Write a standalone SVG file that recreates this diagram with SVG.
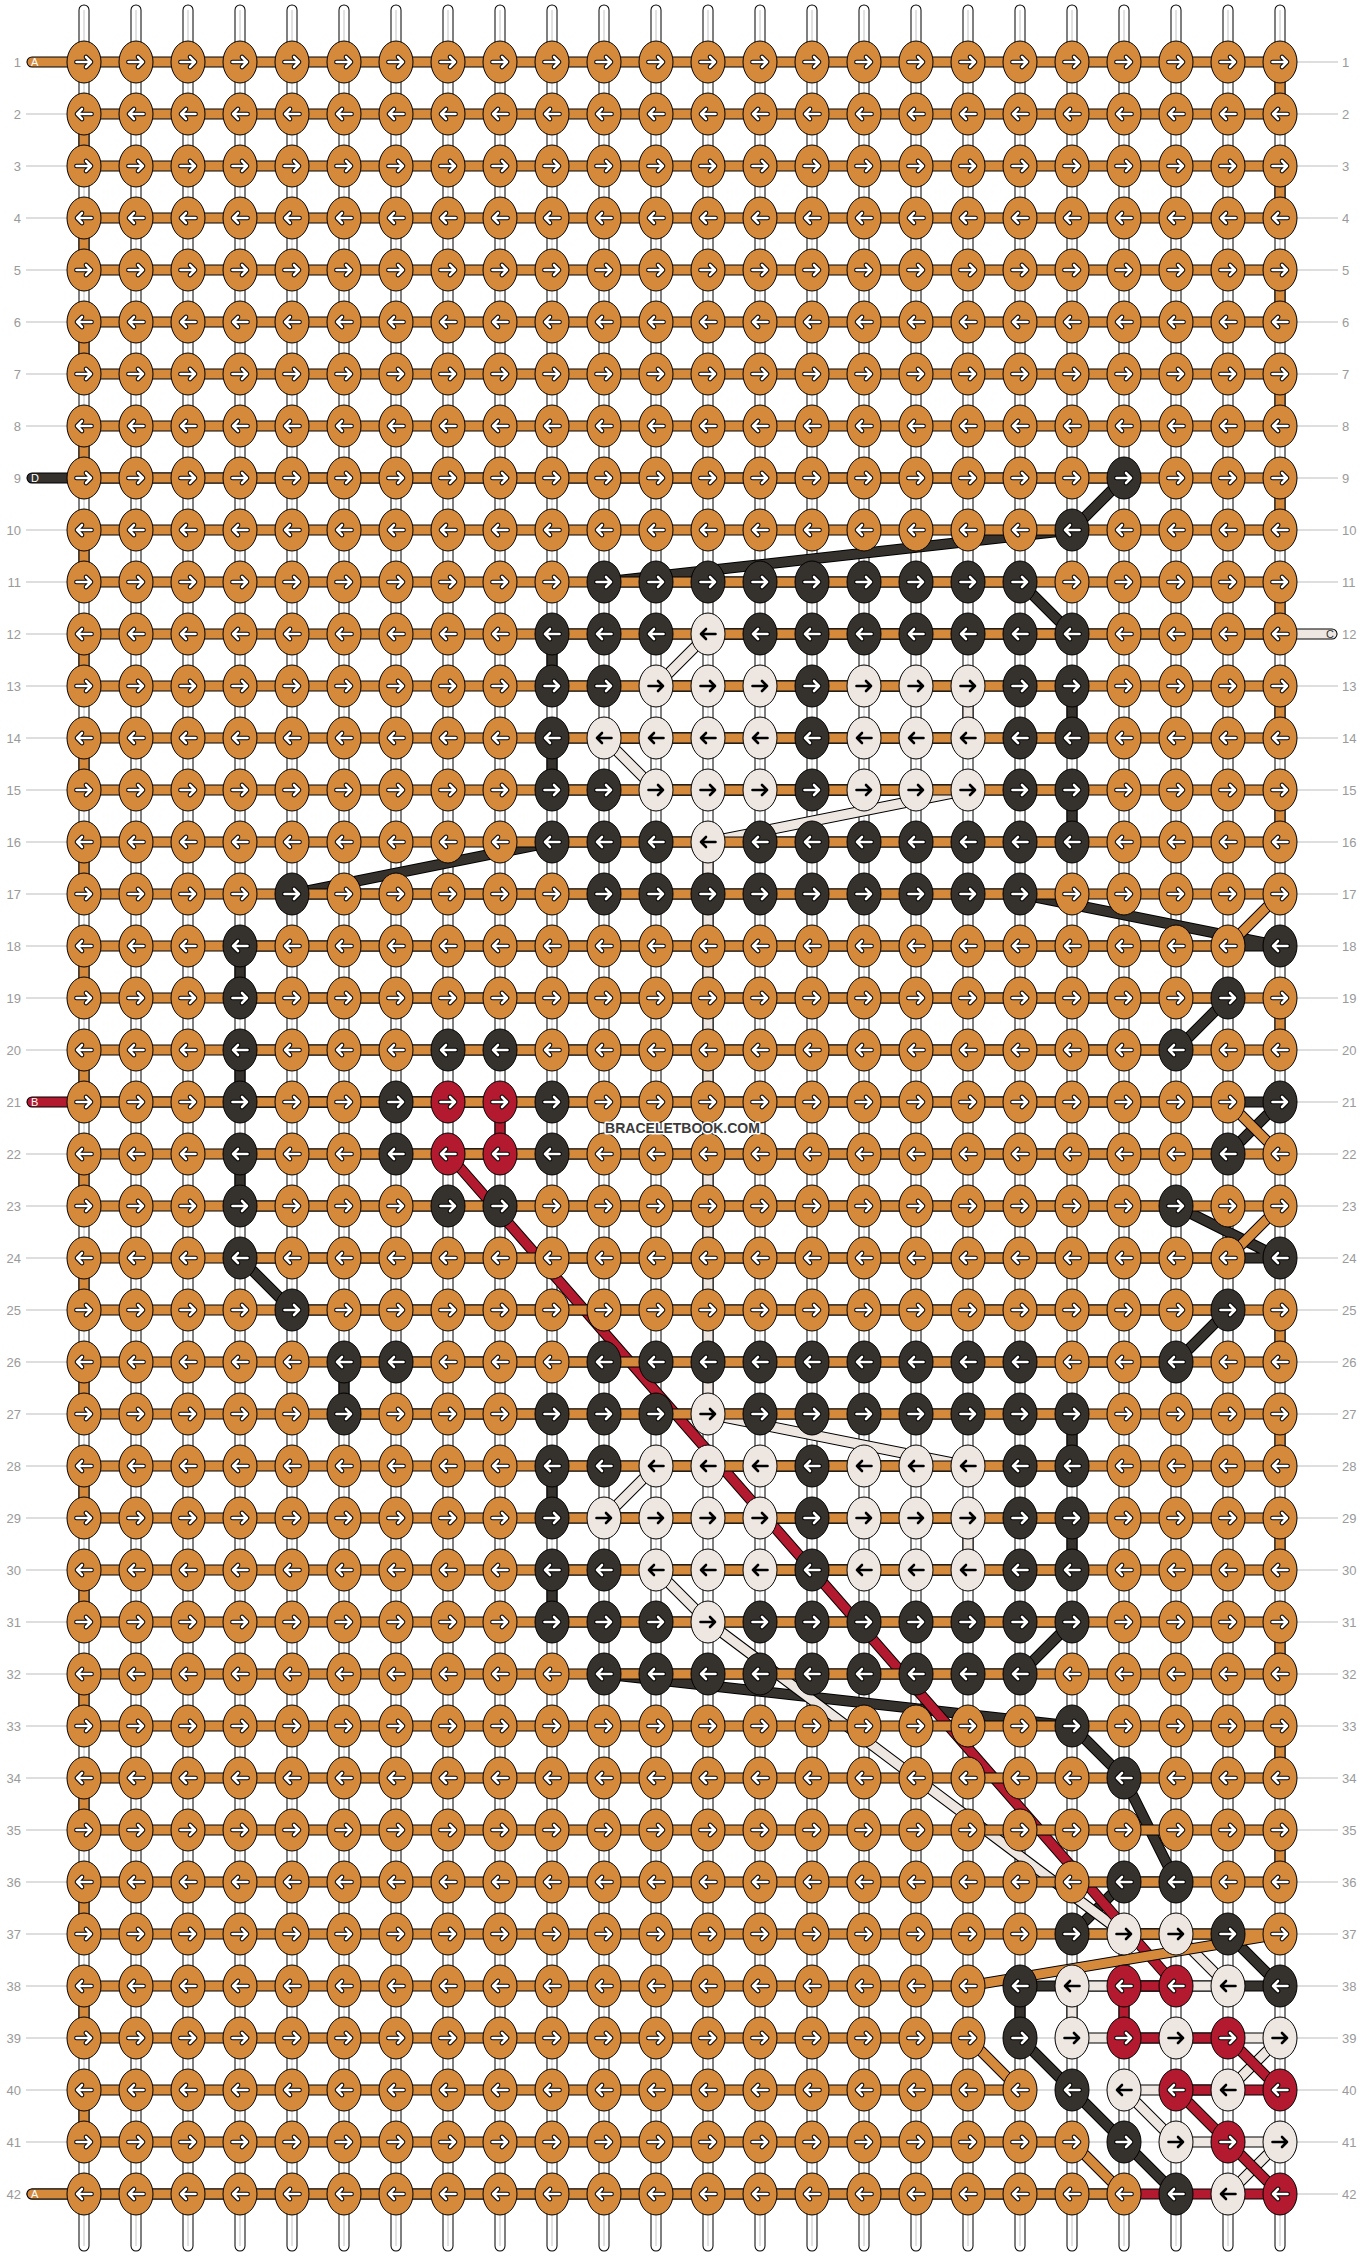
<svg xmlns="http://www.w3.org/2000/svg" xmlns:xlink="http://www.w3.org/1999/xlink" width="1364" height="2256" viewBox="0 0 1364 2256">
<style>
.bg{fill:#fff}
.s{fill:none;stroke-linecap:round;stroke-linejoin:round}
.vso{stroke:#000;stroke-width:11}
.vsw{stroke:#fff;stroke-width:9}
.vsg{fill:none;stroke:#c4c4c4;stroke-width:1}
.rl{fill:none;stroke:#bdbdbd;stroke-width:1}
.ol{stroke:#000;stroke-width:11}
.tA{stroke:#D5893A;stroke-width:9}
.tB{stroke:#B3192F;stroke-width:9}
.tC{stroke:#EEE7E1;stroke-width:9}
.tD{stroke:#35312C;stroke-width:9}
.k{stroke:#000;stroke-width:1}
.a{fill:#D5893A}.b{fill:#B3192F}.c{fill:#EEE7E1}.d{fill:#35312C}
.o{fill:none;stroke:#000;stroke-width:4.6;stroke-linecap:round;stroke-linejoin:round}
.w{fill:none;stroke:#fff;stroke-width:2.6;stroke-linecap:round;stroke-linejoin:round}
.x{fill:none;stroke:#000;stroke-width:2.6;stroke-linecap:round;stroke-linejoin:round}
.rn{font-family:"Liberation Sans",Arial,sans-serif;font-size:13px;fill:#9a9a9a}
.lab{font-family:"Liberation Sans",Arial,sans-serif;font-size:11px}
.wm{font-family:"Liberation Sans",Arial,sans-serif;font-size:14px;font-weight:bold;fill:#3a3a3a;stroke:#fff;stroke-width:3;paint-order:stroke;stroke-linejoin:round}
</style>
<defs>
<path id="ra" d="M-7.5 0H7M2 -5L7 0L2 5"/>
<path id="la" d="M7.5 0H-7M-2 -5L-7 0L-2 5"/>
<g id="Ar"><ellipse class="k a" rx="17" ry="21"/><use href="#ra" class="o"/><use href="#ra" class="w"/></g>
<g id="Al"><ellipse class="k a" rx="17" ry="21"/><use href="#la" class="o"/><use href="#la" class="w"/></g>
<g id="Br"><ellipse class="k b" rx="17" ry="21"/><use href="#ra" class="o"/><use href="#ra" class="w"/></g>
<g id="Bl"><ellipse class="k b" rx="17" ry="21"/><use href="#la" class="o"/><use href="#la" class="w"/></g>
<g id="Cr"><ellipse class="k c" rx="17" ry="21"/><use href="#ra" class="x"/></g>
<g id="Cl"><ellipse class="k c" rx="17" ry="21"/><use href="#la" class="x"/></g>
<g id="Dr"><ellipse class="k d" rx="17" ry="21"/><use href="#ra" class="o"/><use href="#ra" class="w"/></g>
<g id="Dl"><ellipse class="k d" rx="17" ry="21"/><use href="#la" class="o"/><use href="#la" class="w"/></g>
<path id="vs" d="M84 10V2246M136 10V2246M188 10V2246M240 10V2246M292 10V2246M344 10V2246M396 10V2246M448 10V2246M500 10V2246M552 10V2246M604 10V2246M656 10V2246M708 10V2246M760 10V2246M812 10V2246M864 10V2246M916 10V2246M968 10V2246M1020 10V2246M1072 10V2246M1124 10V2246M1176 10V2246M1228 10V2246M1280 10V2246"/>
<path id="pA" d="M32 62H1280V114H84V166H1280V218H84V270H1280V322H84V374H1280V426H84V478H1280V530H84V582H1280V634H84V686H1280V738H84V790H1280V842H84V894H1280L1228 946H84V998H1280V1050H84V1102H1228L1280 1154H84V1206H1280L1228 1258H84V1310H1280V1362H84V1414H1280V1466H84V1518H1280V1570H84V1622H1280V1674H84V1726H1280V1778H84V1830H1280V1882H84V1934H1280L968 1986H84V2038H968L1020 2090H84V2142H1072L1124 2194H32"/>
<path id="pB" d="M32 1102H500V1154H448L1176 1986H1124V2038H1228L1280 2090H1176L1228 2142L1280 2194H32"/>
<path id="pC" d="M1332 634H708L656 686H968V738H604L656 790H968L708 842V1414L968 1466H656L604 1518H968V1570H656L708 1622L1124 1934H1176L1228 1986H1072V2038H1280L1228 2090H1124L1176 2142H1280L1228 2194"/>
<path id="pD" d="M32 478H1124L1072 530L604 582H1020L1072 634H552V686H1072V738H552V790H1072V842H552L292 894H1020L1280 946H240V998H1228L1176 1050H240V1102H1280L1228 1154H240V1206H1176L1280 1258H240L292 1310H1228L1176 1362H344V1414H1072V1466H552V1518H1072V1570H552V1622H1072L1020 1674H604L1072 1726L1124 1778L1176 1882H1124L1072 1934H1228L1280 1986H1020V2038L1072 2090L1124 2142L1176 2194"/>
</defs>
<rect class="bg" width="1364" height="2256"/>
<g id="strings">
<use href="#vs" class="s vso"/>
<use href="#vs" class="s vsw"/>
<use href="#vs" class="vsg"/>
</g>
<path id="rowlines" class="rl" d="M26 62H1338M26 114H1338M26 166H1338M26 218H1338M26 270H1338M26 322H1338M26 374H1338M26 426H1338M26 478H1338M26 530H1338M26 582H1338M26 634H1338M26 686H1338M26 738H1338M26 790H1338M26 842H1338M26 894H1338M26 946H1338M26 998H1338M26 1050H1338M26 1102H1338M26 1154H1338M26 1206H1338M26 1258H1338M26 1310H1338M26 1362H1338M26 1414H1338M26 1466H1338M26 1518H1338M26 1570H1338M26 1622H1338M26 1674H1338M26 1726H1338M26 1778H1338M26 1830H1338M26 1882H1338M26 1934H1338M26 1986H1338M26 2038H1338M26 2090H1338M26 2142H1338M26 2194H1338"/>
<g id="connectors">
<use href="#pD" class="s ol"/><use href="#pD" class="s tD"/>
<use href="#pC" class="s ol"/><use href="#pC" class="s tC"/>
<use href="#pB" class="s ol"/><use href="#pB" class="s tB"/>
<use href="#pA" class="s ol"/><use href="#pA" class="s tA"/>
</g>
<g id="knots">
<g id="row1" transform="translate(0 62)"><g id="k1-1"><use href="#Ar" x="84"/></g><g id="k1-2"><use href="#Ar" x="136"/></g><g id="k1-3"><use href="#Ar" x="188"/></g><g id="k1-4"><use href="#Ar" x="240"/></g><g id="k1-5"><use href="#Ar" x="292"/></g><g id="k1-6"><use href="#Ar" x="344"/></g><g id="k1-7"><use href="#Ar" x="396"/></g><g id="k1-8"><use href="#Ar" x="448"/></g><g id="k1-9"><use href="#Ar" x="500"/></g><g id="k1-10"><use href="#Ar" x="552"/></g><g id="k1-11"><use href="#Ar" x="604"/></g><g id="k1-12"><use href="#Ar" x="656"/></g><g id="k1-13"><use href="#Ar" x="708"/></g><g id="k1-14"><use href="#Ar" x="760"/></g><g id="k1-15"><use href="#Ar" x="812"/></g><g id="k1-16"><use href="#Ar" x="864"/></g><g id="k1-17"><use href="#Ar" x="916"/></g><g id="k1-18"><use href="#Ar" x="968"/></g><g id="k1-19"><use href="#Ar" x="1020"/></g><g id="k1-20"><use href="#Ar" x="1072"/></g><g id="k1-21"><use href="#Ar" x="1124"/></g><g id="k1-22"><use href="#Ar" x="1176"/></g><g id="k1-23"><use href="#Ar" x="1228"/></g><g id="k1-24"><use href="#Ar" x="1280"/></g></g>
<g id="row2" transform="translate(0 114)"><g id="k2-1"><use href="#Al" x="84"/></g><g id="k2-2"><use href="#Al" x="136"/></g><g id="k2-3"><use href="#Al" x="188"/></g><g id="k2-4"><use href="#Al" x="240"/></g><g id="k2-5"><use href="#Al" x="292"/></g><g id="k2-6"><use href="#Al" x="344"/></g><g id="k2-7"><use href="#Al" x="396"/></g><g id="k2-8"><use href="#Al" x="448"/></g><g id="k2-9"><use href="#Al" x="500"/></g><g id="k2-10"><use href="#Al" x="552"/></g><g id="k2-11"><use href="#Al" x="604"/></g><g id="k2-12"><use href="#Al" x="656"/></g><g id="k2-13"><use href="#Al" x="708"/></g><g id="k2-14"><use href="#Al" x="760"/></g><g id="k2-15"><use href="#Al" x="812"/></g><g id="k2-16"><use href="#Al" x="864"/></g><g id="k2-17"><use href="#Al" x="916"/></g><g id="k2-18"><use href="#Al" x="968"/></g><g id="k2-19"><use href="#Al" x="1020"/></g><g id="k2-20"><use href="#Al" x="1072"/></g><g id="k2-21"><use href="#Al" x="1124"/></g><g id="k2-22"><use href="#Al" x="1176"/></g><g id="k2-23"><use href="#Al" x="1228"/></g><g id="k2-24"><use href="#Al" x="1280"/></g></g>
<g id="row3" transform="translate(0 166)"><g id="k3-1"><use href="#Ar" x="84"/></g><g id="k3-2"><use href="#Ar" x="136"/></g><g id="k3-3"><use href="#Ar" x="188"/></g><g id="k3-4"><use href="#Ar" x="240"/></g><g id="k3-5"><use href="#Ar" x="292"/></g><g id="k3-6"><use href="#Ar" x="344"/></g><g id="k3-7"><use href="#Ar" x="396"/></g><g id="k3-8"><use href="#Ar" x="448"/></g><g id="k3-9"><use href="#Ar" x="500"/></g><g id="k3-10"><use href="#Ar" x="552"/></g><g id="k3-11"><use href="#Ar" x="604"/></g><g id="k3-12"><use href="#Ar" x="656"/></g><g id="k3-13"><use href="#Ar" x="708"/></g><g id="k3-14"><use href="#Ar" x="760"/></g><g id="k3-15"><use href="#Ar" x="812"/></g><g id="k3-16"><use href="#Ar" x="864"/></g><g id="k3-17"><use href="#Ar" x="916"/></g><g id="k3-18"><use href="#Ar" x="968"/></g><g id="k3-19"><use href="#Ar" x="1020"/></g><g id="k3-20"><use href="#Ar" x="1072"/></g><g id="k3-21"><use href="#Ar" x="1124"/></g><g id="k3-22"><use href="#Ar" x="1176"/></g><g id="k3-23"><use href="#Ar" x="1228"/></g><g id="k3-24"><use href="#Ar" x="1280"/></g></g>
<g id="row4" transform="translate(0 218)"><g id="k4-1"><use href="#Al" x="84"/></g><g id="k4-2"><use href="#Al" x="136"/></g><g id="k4-3"><use href="#Al" x="188"/></g><g id="k4-4"><use href="#Al" x="240"/></g><g id="k4-5"><use href="#Al" x="292"/></g><g id="k4-6"><use href="#Al" x="344"/></g><g id="k4-7"><use href="#Al" x="396"/></g><g id="k4-8"><use href="#Al" x="448"/></g><g id="k4-9"><use href="#Al" x="500"/></g><g id="k4-10"><use href="#Al" x="552"/></g><g id="k4-11"><use href="#Al" x="604"/></g><g id="k4-12"><use href="#Al" x="656"/></g><g id="k4-13"><use href="#Al" x="708"/></g><g id="k4-14"><use href="#Al" x="760"/></g><g id="k4-15"><use href="#Al" x="812"/></g><g id="k4-16"><use href="#Al" x="864"/></g><g id="k4-17"><use href="#Al" x="916"/></g><g id="k4-18"><use href="#Al" x="968"/></g><g id="k4-19"><use href="#Al" x="1020"/></g><g id="k4-20"><use href="#Al" x="1072"/></g><g id="k4-21"><use href="#Al" x="1124"/></g><g id="k4-22"><use href="#Al" x="1176"/></g><g id="k4-23"><use href="#Al" x="1228"/></g><g id="k4-24"><use href="#Al" x="1280"/></g></g>
<g id="row5" transform="translate(0 270)"><g id="k5-1"><use href="#Ar" x="84"/></g><g id="k5-2"><use href="#Ar" x="136"/></g><g id="k5-3"><use href="#Ar" x="188"/></g><g id="k5-4"><use href="#Ar" x="240"/></g><g id="k5-5"><use href="#Ar" x="292"/></g><g id="k5-6"><use href="#Ar" x="344"/></g><g id="k5-7"><use href="#Ar" x="396"/></g><g id="k5-8"><use href="#Ar" x="448"/></g><g id="k5-9"><use href="#Ar" x="500"/></g><g id="k5-10"><use href="#Ar" x="552"/></g><g id="k5-11"><use href="#Ar" x="604"/></g><g id="k5-12"><use href="#Ar" x="656"/></g><g id="k5-13"><use href="#Ar" x="708"/></g><g id="k5-14"><use href="#Ar" x="760"/></g><g id="k5-15"><use href="#Ar" x="812"/></g><g id="k5-16"><use href="#Ar" x="864"/></g><g id="k5-17"><use href="#Ar" x="916"/></g><g id="k5-18"><use href="#Ar" x="968"/></g><g id="k5-19"><use href="#Ar" x="1020"/></g><g id="k5-20"><use href="#Ar" x="1072"/></g><g id="k5-21"><use href="#Ar" x="1124"/></g><g id="k5-22"><use href="#Ar" x="1176"/></g><g id="k5-23"><use href="#Ar" x="1228"/></g><g id="k5-24"><use href="#Ar" x="1280"/></g></g>
<g id="row6" transform="translate(0 322)"><g id="k6-1"><use href="#Al" x="84"/></g><g id="k6-2"><use href="#Al" x="136"/></g><g id="k6-3"><use href="#Al" x="188"/></g><g id="k6-4"><use href="#Al" x="240"/></g><g id="k6-5"><use href="#Al" x="292"/></g><g id="k6-6"><use href="#Al" x="344"/></g><g id="k6-7"><use href="#Al" x="396"/></g><g id="k6-8"><use href="#Al" x="448"/></g><g id="k6-9"><use href="#Al" x="500"/></g><g id="k6-10"><use href="#Al" x="552"/></g><g id="k6-11"><use href="#Al" x="604"/></g><g id="k6-12"><use href="#Al" x="656"/></g><g id="k6-13"><use href="#Al" x="708"/></g><g id="k6-14"><use href="#Al" x="760"/></g><g id="k6-15"><use href="#Al" x="812"/></g><g id="k6-16"><use href="#Al" x="864"/></g><g id="k6-17"><use href="#Al" x="916"/></g><g id="k6-18"><use href="#Al" x="968"/></g><g id="k6-19"><use href="#Al" x="1020"/></g><g id="k6-20"><use href="#Al" x="1072"/></g><g id="k6-21"><use href="#Al" x="1124"/></g><g id="k6-22"><use href="#Al" x="1176"/></g><g id="k6-23"><use href="#Al" x="1228"/></g><g id="k6-24"><use href="#Al" x="1280"/></g></g>
<g id="row7" transform="translate(0 374)"><g id="k7-1"><use href="#Ar" x="84"/></g><g id="k7-2"><use href="#Ar" x="136"/></g><g id="k7-3"><use href="#Ar" x="188"/></g><g id="k7-4"><use href="#Ar" x="240"/></g><g id="k7-5"><use href="#Ar" x="292"/></g><g id="k7-6"><use href="#Ar" x="344"/></g><g id="k7-7"><use href="#Ar" x="396"/></g><g id="k7-8"><use href="#Ar" x="448"/></g><g id="k7-9"><use href="#Ar" x="500"/></g><g id="k7-10"><use href="#Ar" x="552"/></g><g id="k7-11"><use href="#Ar" x="604"/></g><g id="k7-12"><use href="#Ar" x="656"/></g><g id="k7-13"><use href="#Ar" x="708"/></g><g id="k7-14"><use href="#Ar" x="760"/></g><g id="k7-15"><use href="#Ar" x="812"/></g><g id="k7-16"><use href="#Ar" x="864"/></g><g id="k7-17"><use href="#Ar" x="916"/></g><g id="k7-18"><use href="#Ar" x="968"/></g><g id="k7-19"><use href="#Ar" x="1020"/></g><g id="k7-20"><use href="#Ar" x="1072"/></g><g id="k7-21"><use href="#Ar" x="1124"/></g><g id="k7-22"><use href="#Ar" x="1176"/></g><g id="k7-23"><use href="#Ar" x="1228"/></g><g id="k7-24"><use href="#Ar" x="1280"/></g></g>
<g id="row8" transform="translate(0 426)"><g id="k8-1"><use href="#Al" x="84"/></g><g id="k8-2"><use href="#Al" x="136"/></g><g id="k8-3"><use href="#Al" x="188"/></g><g id="k8-4"><use href="#Al" x="240"/></g><g id="k8-5"><use href="#Al" x="292"/></g><g id="k8-6"><use href="#Al" x="344"/></g><g id="k8-7"><use href="#Al" x="396"/></g><g id="k8-8"><use href="#Al" x="448"/></g><g id="k8-9"><use href="#Al" x="500"/></g><g id="k8-10"><use href="#Al" x="552"/></g><g id="k8-11"><use href="#Al" x="604"/></g><g id="k8-12"><use href="#Al" x="656"/></g><g id="k8-13"><use href="#Al" x="708"/></g><g id="k8-14"><use href="#Al" x="760"/></g><g id="k8-15"><use href="#Al" x="812"/></g><g id="k8-16"><use href="#Al" x="864"/></g><g id="k8-17"><use href="#Al" x="916"/></g><g id="k8-18"><use href="#Al" x="968"/></g><g id="k8-19"><use href="#Al" x="1020"/></g><g id="k8-20"><use href="#Al" x="1072"/></g><g id="k8-21"><use href="#Al" x="1124"/></g><g id="k8-22"><use href="#Al" x="1176"/></g><g id="k8-23"><use href="#Al" x="1228"/></g><g id="k8-24"><use href="#Al" x="1280"/></g></g>
<g id="row9" transform="translate(0 478)"><g id="k9-1"><use href="#Ar" x="84"/></g><g id="k9-2"><use href="#Ar" x="136"/></g><g id="k9-3"><use href="#Ar" x="188"/></g><g id="k9-4"><use href="#Ar" x="240"/></g><g id="k9-5"><use href="#Ar" x="292"/></g><g id="k9-6"><use href="#Ar" x="344"/></g><g id="k9-7"><use href="#Ar" x="396"/></g><g id="k9-8"><use href="#Ar" x="448"/></g><g id="k9-9"><use href="#Ar" x="500"/></g><g id="k9-10"><use href="#Ar" x="552"/></g><g id="k9-11"><use href="#Ar" x="604"/></g><g id="k9-12"><use href="#Ar" x="656"/></g><g id="k9-13"><use href="#Ar" x="708"/></g><g id="k9-14"><use href="#Ar" x="760"/></g><g id="k9-15"><use href="#Ar" x="812"/></g><g id="k9-16"><use href="#Ar" x="864"/></g><g id="k9-17"><use href="#Ar" x="916"/></g><g id="k9-18"><use href="#Ar" x="968"/></g><g id="k9-19"><use href="#Ar" x="1020"/></g><g id="k9-20"><use href="#Ar" x="1072"/></g><g id="k9-21"><use href="#Dr" x="1124"/></g><g id="k9-22"><use href="#Ar" x="1176"/></g><g id="k9-23"><use href="#Ar" x="1228"/></g><g id="k9-24"><use href="#Ar" x="1280"/></g></g>
<g id="row10" transform="translate(0 530)"><g id="k10-1"><use href="#Al" x="84"/></g><g id="k10-2"><use href="#Al" x="136"/></g><g id="k10-3"><use href="#Al" x="188"/></g><g id="k10-4"><use href="#Al" x="240"/></g><g id="k10-5"><use href="#Al" x="292"/></g><g id="k10-6"><use href="#Al" x="344"/></g><g id="k10-7"><use href="#Al" x="396"/></g><g id="k10-8"><use href="#Al" x="448"/></g><g id="k10-9"><use href="#Al" x="500"/></g><g id="k10-10"><use href="#Al" x="552"/></g><g id="k10-11"><use href="#Al" x="604"/></g><g id="k10-12"><use href="#Al" x="656"/></g><g id="k10-13"><use href="#Al" x="708"/></g><g id="k10-14"><use href="#Al" x="760"/></g><g id="k10-15"><use href="#Al" x="812"/></g><g id="k10-16"><use href="#Al" x="864"/></g><g id="k10-17"><use href="#Al" x="916"/></g><g id="k10-18"><use href="#Al" x="968"/></g><g id="k10-19"><use href="#Al" x="1020"/></g><g id="k10-20"><use href="#Dl" x="1072"/></g><g id="k10-21"><use href="#Al" x="1124"/></g><g id="k10-22"><use href="#Al" x="1176"/></g><g id="k10-23"><use href="#Al" x="1228"/></g><g id="k10-24"><use href="#Al" x="1280"/></g></g>
<g id="row11" transform="translate(0 582)"><g id="k11-1"><use href="#Ar" x="84"/></g><g id="k11-2"><use href="#Ar" x="136"/></g><g id="k11-3"><use href="#Ar" x="188"/></g><g id="k11-4"><use href="#Ar" x="240"/></g><g id="k11-5"><use href="#Ar" x="292"/></g><g id="k11-6"><use href="#Ar" x="344"/></g><g id="k11-7"><use href="#Ar" x="396"/></g><g id="k11-8"><use href="#Ar" x="448"/></g><g id="k11-9"><use href="#Ar" x="500"/></g><g id="k11-10"><use href="#Ar" x="552"/></g><g id="k11-11"><use href="#Dr" x="604"/></g><g id="k11-12"><use href="#Dr" x="656"/></g><g id="k11-13"><use href="#Dr" x="708"/></g><g id="k11-14"><use href="#Dr" x="760"/></g><g id="k11-15"><use href="#Dr" x="812"/></g><g id="k11-16"><use href="#Dr" x="864"/></g><g id="k11-17"><use href="#Dr" x="916"/></g><g id="k11-18"><use href="#Dr" x="968"/></g><g id="k11-19"><use href="#Dr" x="1020"/></g><g id="k11-20"><use href="#Ar" x="1072"/></g><g id="k11-21"><use href="#Ar" x="1124"/></g><g id="k11-22"><use href="#Ar" x="1176"/></g><g id="k11-23"><use href="#Ar" x="1228"/></g><g id="k11-24"><use href="#Ar" x="1280"/></g></g>
<g id="row12" transform="translate(0 634)"><g id="k12-1"><use href="#Al" x="84"/></g><g id="k12-2"><use href="#Al" x="136"/></g><g id="k12-3"><use href="#Al" x="188"/></g><g id="k12-4"><use href="#Al" x="240"/></g><g id="k12-5"><use href="#Al" x="292"/></g><g id="k12-6"><use href="#Al" x="344"/></g><g id="k12-7"><use href="#Al" x="396"/></g><g id="k12-8"><use href="#Al" x="448"/></g><g id="k12-9"><use href="#Al" x="500"/></g><g id="k12-10"><use href="#Dl" x="552"/></g><g id="k12-11"><use href="#Dl" x="604"/></g><g id="k12-12"><use href="#Dl" x="656"/></g><g id="k12-13"><use href="#Cl" x="708"/></g><g id="k12-14"><use href="#Dl" x="760"/></g><g id="k12-15"><use href="#Dl" x="812"/></g><g id="k12-16"><use href="#Dl" x="864"/></g><g id="k12-17"><use href="#Dl" x="916"/></g><g id="k12-18"><use href="#Dl" x="968"/></g><g id="k12-19"><use href="#Dl" x="1020"/></g><g id="k12-20"><use href="#Dl" x="1072"/></g><g id="k12-21"><use href="#Al" x="1124"/></g><g id="k12-22"><use href="#Al" x="1176"/></g><g id="k12-23"><use href="#Al" x="1228"/></g><g id="k12-24"><use href="#Al" x="1280"/></g></g>
<g id="row13" transform="translate(0 686)"><g id="k13-1"><use href="#Ar" x="84"/></g><g id="k13-2"><use href="#Ar" x="136"/></g><g id="k13-3"><use href="#Ar" x="188"/></g><g id="k13-4"><use href="#Ar" x="240"/></g><g id="k13-5"><use href="#Ar" x="292"/></g><g id="k13-6"><use href="#Ar" x="344"/></g><g id="k13-7"><use href="#Ar" x="396"/></g><g id="k13-8"><use href="#Ar" x="448"/></g><g id="k13-9"><use href="#Ar" x="500"/></g><g id="k13-10"><use href="#Dr" x="552"/></g><g id="k13-11"><use href="#Dr" x="604"/></g><g id="k13-12"><use href="#Cr" x="656"/></g><g id="k13-13"><use href="#Cr" x="708"/></g><g id="k13-14"><use href="#Cr" x="760"/></g><g id="k13-15"><use href="#Dr" x="812"/></g><g id="k13-16"><use href="#Cr" x="864"/></g><g id="k13-17"><use href="#Cr" x="916"/></g><g id="k13-18"><use href="#Cr" x="968"/></g><g id="k13-19"><use href="#Dr" x="1020"/></g><g id="k13-20"><use href="#Dr" x="1072"/></g><g id="k13-21"><use href="#Ar" x="1124"/></g><g id="k13-22"><use href="#Ar" x="1176"/></g><g id="k13-23"><use href="#Ar" x="1228"/></g><g id="k13-24"><use href="#Ar" x="1280"/></g></g>
<g id="row14" transform="translate(0 738)"><g id="k14-1"><use href="#Al" x="84"/></g><g id="k14-2"><use href="#Al" x="136"/></g><g id="k14-3"><use href="#Al" x="188"/></g><g id="k14-4"><use href="#Al" x="240"/></g><g id="k14-5"><use href="#Al" x="292"/></g><g id="k14-6"><use href="#Al" x="344"/></g><g id="k14-7"><use href="#Al" x="396"/></g><g id="k14-8"><use href="#Al" x="448"/></g><g id="k14-9"><use href="#Al" x="500"/></g><g id="k14-10"><use href="#Dl" x="552"/></g><g id="k14-11"><use href="#Cl" x="604"/></g><g id="k14-12"><use href="#Cl" x="656"/></g><g id="k14-13"><use href="#Cl" x="708"/></g><g id="k14-14"><use href="#Cl" x="760"/></g><g id="k14-15"><use href="#Dl" x="812"/></g><g id="k14-16"><use href="#Cl" x="864"/></g><g id="k14-17"><use href="#Cl" x="916"/></g><g id="k14-18"><use href="#Cl" x="968"/></g><g id="k14-19"><use href="#Dl" x="1020"/></g><g id="k14-20"><use href="#Dl" x="1072"/></g><g id="k14-21"><use href="#Al" x="1124"/></g><g id="k14-22"><use href="#Al" x="1176"/></g><g id="k14-23"><use href="#Al" x="1228"/></g><g id="k14-24"><use href="#Al" x="1280"/></g></g>
<g id="row15" transform="translate(0 790)"><g id="k15-1"><use href="#Ar" x="84"/></g><g id="k15-2"><use href="#Ar" x="136"/></g><g id="k15-3"><use href="#Ar" x="188"/></g><g id="k15-4"><use href="#Ar" x="240"/></g><g id="k15-5"><use href="#Ar" x="292"/></g><g id="k15-6"><use href="#Ar" x="344"/></g><g id="k15-7"><use href="#Ar" x="396"/></g><g id="k15-8"><use href="#Ar" x="448"/></g><g id="k15-9"><use href="#Ar" x="500"/></g><g id="k15-10"><use href="#Dr" x="552"/></g><g id="k15-11"><use href="#Dr" x="604"/></g><g id="k15-12"><use href="#Cr" x="656"/></g><g id="k15-13"><use href="#Cr" x="708"/></g><g id="k15-14"><use href="#Cr" x="760"/></g><g id="k15-15"><use href="#Dr" x="812"/></g><g id="k15-16"><use href="#Cr" x="864"/></g><g id="k15-17"><use href="#Cr" x="916"/></g><g id="k15-18"><use href="#Cr" x="968"/></g><g id="k15-19"><use href="#Dr" x="1020"/></g><g id="k15-20"><use href="#Dr" x="1072"/></g><g id="k15-21"><use href="#Ar" x="1124"/></g><g id="k15-22"><use href="#Ar" x="1176"/></g><g id="k15-23"><use href="#Ar" x="1228"/></g><g id="k15-24"><use href="#Ar" x="1280"/></g></g>
<g id="row16" transform="translate(0 842)"><g id="k16-1"><use href="#Al" x="84"/></g><g id="k16-2"><use href="#Al" x="136"/></g><g id="k16-3"><use href="#Al" x="188"/></g><g id="k16-4"><use href="#Al" x="240"/></g><g id="k16-5"><use href="#Al" x="292"/></g><g id="k16-6"><use href="#Al" x="344"/></g><g id="k16-7"><use href="#Al" x="396"/></g><g id="k16-8"><use href="#Al" x="448"/></g><g id="k16-9"><use href="#Al" x="500"/></g><g id="k16-10"><use href="#Dl" x="552"/></g><g id="k16-11"><use href="#Dl" x="604"/></g><g id="k16-12"><use href="#Dl" x="656"/></g><g id="k16-13"><use href="#Cl" x="708"/></g><g id="k16-14"><use href="#Dl" x="760"/></g><g id="k16-15"><use href="#Dl" x="812"/></g><g id="k16-16"><use href="#Dl" x="864"/></g><g id="k16-17"><use href="#Dl" x="916"/></g><g id="k16-18"><use href="#Dl" x="968"/></g><g id="k16-19"><use href="#Dl" x="1020"/></g><g id="k16-20"><use href="#Dl" x="1072"/></g><g id="k16-21"><use href="#Al" x="1124"/></g><g id="k16-22"><use href="#Al" x="1176"/></g><g id="k16-23"><use href="#Al" x="1228"/></g><g id="k16-24"><use href="#Al" x="1280"/></g></g>
<g id="row17" transform="translate(0 894)"><g id="k17-1"><use href="#Ar" x="84"/></g><g id="k17-2"><use href="#Ar" x="136"/></g><g id="k17-3"><use href="#Ar" x="188"/></g><g id="k17-4"><use href="#Ar" x="240"/></g><g id="k17-5"><use href="#Dr" x="292"/></g><g id="k17-6"><use href="#Ar" x="344"/></g><g id="k17-7"><use href="#Ar" x="396"/></g><g id="k17-8"><use href="#Ar" x="448"/></g><g id="k17-9"><use href="#Ar" x="500"/></g><g id="k17-10"><use href="#Ar" x="552"/></g><g id="k17-11"><use href="#Dr" x="604"/></g><g id="k17-12"><use href="#Dr" x="656"/></g><g id="k17-13"><use href="#Dr" x="708"/></g><g id="k17-14"><use href="#Dr" x="760"/></g><g id="k17-15"><use href="#Dr" x="812"/></g><g id="k17-16"><use href="#Dr" x="864"/></g><g id="k17-17"><use href="#Dr" x="916"/></g><g id="k17-18"><use href="#Dr" x="968"/></g><g id="k17-19"><use href="#Dr" x="1020"/></g><g id="k17-20"><use href="#Ar" x="1072"/></g><g id="k17-21"><use href="#Ar" x="1124"/></g><g id="k17-22"><use href="#Ar" x="1176"/></g><g id="k17-23"><use href="#Ar" x="1228"/></g><g id="k17-24"><use href="#Ar" x="1280"/></g></g>
<g id="row18" transform="translate(0 946)"><g id="k18-1"><use href="#Al" x="84"/></g><g id="k18-2"><use href="#Al" x="136"/></g><g id="k18-3"><use href="#Al" x="188"/></g><g id="k18-4"><use href="#Dl" x="240"/></g><g id="k18-5"><use href="#Al" x="292"/></g><g id="k18-6"><use href="#Al" x="344"/></g><g id="k18-7"><use href="#Al" x="396"/></g><g id="k18-8"><use href="#Al" x="448"/></g><g id="k18-9"><use href="#Al" x="500"/></g><g id="k18-10"><use href="#Al" x="552"/></g><g id="k18-11"><use href="#Al" x="604"/></g><g id="k18-12"><use href="#Al" x="656"/></g><g id="k18-13"><use href="#Al" x="708"/></g><g id="k18-14"><use href="#Al" x="760"/></g><g id="k18-15"><use href="#Al" x="812"/></g><g id="k18-16"><use href="#Al" x="864"/></g><g id="k18-17"><use href="#Al" x="916"/></g><g id="k18-18"><use href="#Al" x="968"/></g><g id="k18-19"><use href="#Al" x="1020"/></g><g id="k18-20"><use href="#Al" x="1072"/></g><g id="k18-21"><use href="#Al" x="1124"/></g><g id="k18-22"><use href="#Al" x="1176"/></g><g id="k18-23"><use href="#Al" x="1228"/></g><g id="k18-24"><use href="#Dl" x="1280"/></g></g>
<g id="row19" transform="translate(0 998)"><g id="k19-1"><use href="#Ar" x="84"/></g><g id="k19-2"><use href="#Ar" x="136"/></g><g id="k19-3"><use href="#Ar" x="188"/></g><g id="k19-4"><use href="#Dr" x="240"/></g><g id="k19-5"><use href="#Ar" x="292"/></g><g id="k19-6"><use href="#Ar" x="344"/></g><g id="k19-7"><use href="#Ar" x="396"/></g><g id="k19-8"><use href="#Ar" x="448"/></g><g id="k19-9"><use href="#Ar" x="500"/></g><g id="k19-10"><use href="#Ar" x="552"/></g><g id="k19-11"><use href="#Ar" x="604"/></g><g id="k19-12"><use href="#Ar" x="656"/></g><g id="k19-13"><use href="#Ar" x="708"/></g><g id="k19-14"><use href="#Ar" x="760"/></g><g id="k19-15"><use href="#Ar" x="812"/></g><g id="k19-16"><use href="#Ar" x="864"/></g><g id="k19-17"><use href="#Ar" x="916"/></g><g id="k19-18"><use href="#Ar" x="968"/></g><g id="k19-19"><use href="#Ar" x="1020"/></g><g id="k19-20"><use href="#Ar" x="1072"/></g><g id="k19-21"><use href="#Ar" x="1124"/></g><g id="k19-22"><use href="#Ar" x="1176"/></g><g id="k19-23"><use href="#Dr" x="1228"/></g><g id="k19-24"><use href="#Ar" x="1280"/></g></g>
<g id="row20" transform="translate(0 1050)"><g id="k20-1"><use href="#Al" x="84"/></g><g id="k20-2"><use href="#Al" x="136"/></g><g id="k20-3"><use href="#Al" x="188"/></g><g id="k20-4"><use href="#Dl" x="240"/></g><g id="k20-5"><use href="#Al" x="292"/></g><g id="k20-6"><use href="#Al" x="344"/></g><g id="k20-7"><use href="#Al" x="396"/></g><g id="k20-8"><use href="#Dl" x="448"/></g><g id="k20-9"><use href="#Dl" x="500"/></g><g id="k20-10"><use href="#Al" x="552"/></g><g id="k20-11"><use href="#Al" x="604"/></g><g id="k20-12"><use href="#Al" x="656"/></g><g id="k20-13"><use href="#Al" x="708"/></g><g id="k20-14"><use href="#Al" x="760"/></g><g id="k20-15"><use href="#Al" x="812"/></g><g id="k20-16"><use href="#Al" x="864"/></g><g id="k20-17"><use href="#Al" x="916"/></g><g id="k20-18"><use href="#Al" x="968"/></g><g id="k20-19"><use href="#Al" x="1020"/></g><g id="k20-20"><use href="#Al" x="1072"/></g><g id="k20-21"><use href="#Al" x="1124"/></g><g id="k20-22"><use href="#Dl" x="1176"/></g><g id="k20-23"><use href="#Al" x="1228"/></g><g id="k20-24"><use href="#Al" x="1280"/></g></g>
<g id="row21" transform="translate(0 1102)"><g id="k21-1"><use href="#Ar" x="84"/></g><g id="k21-2"><use href="#Ar" x="136"/></g><g id="k21-3"><use href="#Ar" x="188"/></g><g id="k21-4"><use href="#Dr" x="240"/></g><g id="k21-5"><use href="#Ar" x="292"/></g><g id="k21-6"><use href="#Ar" x="344"/></g><g id="k21-7"><use href="#Dr" x="396"/></g><g id="k21-8"><use href="#Br" x="448"/></g><g id="k21-9"><use href="#Br" x="500"/></g><g id="k21-10"><use href="#Dr" x="552"/></g><g id="k21-11"><use href="#Ar" x="604"/></g><g id="k21-12"><use href="#Ar" x="656"/></g><g id="k21-13"><use href="#Ar" x="708"/></g><g id="k21-14"><use href="#Ar" x="760"/></g><g id="k21-15"><use href="#Ar" x="812"/></g><g id="k21-16"><use href="#Ar" x="864"/></g><g id="k21-17"><use href="#Ar" x="916"/></g><g id="k21-18"><use href="#Ar" x="968"/></g><g id="k21-19"><use href="#Ar" x="1020"/></g><g id="k21-20"><use href="#Ar" x="1072"/></g><g id="k21-21"><use href="#Ar" x="1124"/></g><g id="k21-22"><use href="#Ar" x="1176"/></g><g id="k21-23"><use href="#Ar" x="1228"/></g><g id="k21-24"><use href="#Dr" x="1280"/></g></g>
<g id="row22" transform="translate(0 1154)"><g id="k22-1"><use href="#Al" x="84"/></g><g id="k22-2"><use href="#Al" x="136"/></g><g id="k22-3"><use href="#Al" x="188"/></g><g id="k22-4"><use href="#Dl" x="240"/></g><g id="k22-5"><use href="#Al" x="292"/></g><g id="k22-6"><use href="#Al" x="344"/></g><g id="k22-7"><use href="#Dl" x="396"/></g><g id="k22-8"><use href="#Bl" x="448"/></g><g id="k22-9"><use href="#Bl" x="500"/></g><g id="k22-10"><use href="#Dl" x="552"/></g><g id="k22-11"><use href="#Al" x="604"/></g><g id="k22-12"><use href="#Al" x="656"/></g><g id="k22-13"><use href="#Al" x="708"/></g><g id="k22-14"><use href="#Al" x="760"/></g><g id="k22-15"><use href="#Al" x="812"/></g><g id="k22-16"><use href="#Al" x="864"/></g><g id="k22-17"><use href="#Al" x="916"/></g><g id="k22-18"><use href="#Al" x="968"/></g><g id="k22-19"><use href="#Al" x="1020"/></g><g id="k22-20"><use href="#Al" x="1072"/></g><g id="k22-21"><use href="#Al" x="1124"/></g><g id="k22-22"><use href="#Al" x="1176"/></g><g id="k22-23"><use href="#Dl" x="1228"/></g><g id="k22-24"><use href="#Al" x="1280"/></g></g>
<g id="row23" transform="translate(0 1206)"><g id="k23-1"><use href="#Ar" x="84"/></g><g id="k23-2"><use href="#Ar" x="136"/></g><g id="k23-3"><use href="#Ar" x="188"/></g><g id="k23-4"><use href="#Dr" x="240"/></g><g id="k23-5"><use href="#Ar" x="292"/></g><g id="k23-6"><use href="#Ar" x="344"/></g><g id="k23-7"><use href="#Ar" x="396"/></g><g id="k23-8"><use href="#Dr" x="448"/></g><g id="k23-9"><use href="#Dr" x="500"/></g><g id="k23-10"><use href="#Ar" x="552"/></g><g id="k23-11"><use href="#Ar" x="604"/></g><g id="k23-12"><use href="#Ar" x="656"/></g><g id="k23-13"><use href="#Ar" x="708"/></g><g id="k23-14"><use href="#Ar" x="760"/></g><g id="k23-15"><use href="#Ar" x="812"/></g><g id="k23-16"><use href="#Ar" x="864"/></g><g id="k23-17"><use href="#Ar" x="916"/></g><g id="k23-18"><use href="#Ar" x="968"/></g><g id="k23-19"><use href="#Ar" x="1020"/></g><g id="k23-20"><use href="#Ar" x="1072"/></g><g id="k23-21"><use href="#Ar" x="1124"/></g><g id="k23-22"><use href="#Dr" x="1176"/></g><g id="k23-23"><use href="#Ar" x="1228"/></g><g id="k23-24"><use href="#Ar" x="1280"/></g></g>
<g id="row24" transform="translate(0 1258)"><g id="k24-1"><use href="#Al" x="84"/></g><g id="k24-2"><use href="#Al" x="136"/></g><g id="k24-3"><use href="#Al" x="188"/></g><g id="k24-4"><use href="#Dl" x="240"/></g><g id="k24-5"><use href="#Al" x="292"/></g><g id="k24-6"><use href="#Al" x="344"/></g><g id="k24-7"><use href="#Al" x="396"/></g><g id="k24-8"><use href="#Al" x="448"/></g><g id="k24-9"><use href="#Al" x="500"/></g><g id="k24-10"><use href="#Al" x="552"/></g><g id="k24-11"><use href="#Al" x="604"/></g><g id="k24-12"><use href="#Al" x="656"/></g><g id="k24-13"><use href="#Al" x="708"/></g><g id="k24-14"><use href="#Al" x="760"/></g><g id="k24-15"><use href="#Al" x="812"/></g><g id="k24-16"><use href="#Al" x="864"/></g><g id="k24-17"><use href="#Al" x="916"/></g><g id="k24-18"><use href="#Al" x="968"/></g><g id="k24-19"><use href="#Al" x="1020"/></g><g id="k24-20"><use href="#Al" x="1072"/></g><g id="k24-21"><use href="#Al" x="1124"/></g><g id="k24-22"><use href="#Al" x="1176"/></g><g id="k24-23"><use href="#Al" x="1228"/></g><g id="k24-24"><use href="#Dl" x="1280"/></g></g>
<g id="row25" transform="translate(0 1310)"><g id="k25-1"><use href="#Ar" x="84"/></g><g id="k25-2"><use href="#Ar" x="136"/></g><g id="k25-3"><use href="#Ar" x="188"/></g><g id="k25-4"><use href="#Ar" x="240"/></g><g id="k25-5"><use href="#Dr" x="292"/></g><g id="k25-6"><use href="#Ar" x="344"/></g><g id="k25-7"><use href="#Ar" x="396"/></g><g id="k25-8"><use href="#Ar" x="448"/></g><g id="k25-9"><use href="#Ar" x="500"/></g><g id="k25-10"><use href="#Ar" x="552"/></g><g id="k25-11"><use href="#Ar" x="604"/></g><g id="k25-12"><use href="#Ar" x="656"/></g><g id="k25-13"><use href="#Ar" x="708"/></g><g id="k25-14"><use href="#Ar" x="760"/></g><g id="k25-15"><use href="#Ar" x="812"/></g><g id="k25-16"><use href="#Ar" x="864"/></g><g id="k25-17"><use href="#Ar" x="916"/></g><g id="k25-18"><use href="#Ar" x="968"/></g><g id="k25-19"><use href="#Ar" x="1020"/></g><g id="k25-20"><use href="#Ar" x="1072"/></g><g id="k25-21"><use href="#Ar" x="1124"/></g><g id="k25-22"><use href="#Ar" x="1176"/></g><g id="k25-23"><use href="#Dr" x="1228"/></g><g id="k25-24"><use href="#Ar" x="1280"/></g></g>
<g id="row26" transform="translate(0 1362)"><g id="k26-1"><use href="#Al" x="84"/></g><g id="k26-2"><use href="#Al" x="136"/></g><g id="k26-3"><use href="#Al" x="188"/></g><g id="k26-4"><use href="#Al" x="240"/></g><g id="k26-5"><use href="#Al" x="292"/></g><g id="k26-6"><use href="#Dl" x="344"/></g><g id="k26-7"><use href="#Dl" x="396"/></g><g id="k26-8"><use href="#Al" x="448"/></g><g id="k26-9"><use href="#Al" x="500"/></g><g id="k26-10"><use href="#Al" x="552"/></g><g id="k26-11"><use href="#Dl" x="604"/></g><g id="k26-12"><use href="#Dl" x="656"/></g><g id="k26-13"><use href="#Dl" x="708"/></g><g id="k26-14"><use href="#Dl" x="760"/></g><g id="k26-15"><use href="#Dl" x="812"/></g><g id="k26-16"><use href="#Dl" x="864"/></g><g id="k26-17"><use href="#Dl" x="916"/></g><g id="k26-18"><use href="#Dl" x="968"/></g><g id="k26-19"><use href="#Dl" x="1020"/></g><g id="k26-20"><use href="#Al" x="1072"/></g><g id="k26-21"><use href="#Al" x="1124"/></g><g id="k26-22"><use href="#Dl" x="1176"/></g><g id="k26-23"><use href="#Al" x="1228"/></g><g id="k26-24"><use href="#Al" x="1280"/></g></g>
<g id="row27" transform="translate(0 1414)"><g id="k27-1"><use href="#Ar" x="84"/></g><g id="k27-2"><use href="#Ar" x="136"/></g><g id="k27-3"><use href="#Ar" x="188"/></g><g id="k27-4"><use href="#Ar" x="240"/></g><g id="k27-5"><use href="#Ar" x="292"/></g><g id="k27-6"><use href="#Dr" x="344"/></g><g id="k27-7"><use href="#Ar" x="396"/></g><g id="k27-8"><use href="#Ar" x="448"/></g><g id="k27-9"><use href="#Ar" x="500"/></g><g id="k27-10"><use href="#Dr" x="552"/></g><g id="k27-11"><use href="#Dr" x="604"/></g><g id="k27-12"><use href="#Dr" x="656"/></g><g id="k27-13"><use href="#Cr" x="708"/></g><g id="k27-14"><use href="#Dr" x="760"/></g><g id="k27-15"><use href="#Dr" x="812"/></g><g id="k27-16"><use href="#Dr" x="864"/></g><g id="k27-17"><use href="#Dr" x="916"/></g><g id="k27-18"><use href="#Dr" x="968"/></g><g id="k27-19"><use href="#Dr" x="1020"/></g><g id="k27-20"><use href="#Dr" x="1072"/></g><g id="k27-21"><use href="#Ar" x="1124"/></g><g id="k27-22"><use href="#Ar" x="1176"/></g><g id="k27-23"><use href="#Ar" x="1228"/></g><g id="k27-24"><use href="#Ar" x="1280"/></g></g>
<g id="row28" transform="translate(0 1466)"><g id="k28-1"><use href="#Al" x="84"/></g><g id="k28-2"><use href="#Al" x="136"/></g><g id="k28-3"><use href="#Al" x="188"/></g><g id="k28-4"><use href="#Al" x="240"/></g><g id="k28-5"><use href="#Al" x="292"/></g><g id="k28-6"><use href="#Al" x="344"/></g><g id="k28-7"><use href="#Al" x="396"/></g><g id="k28-8"><use href="#Al" x="448"/></g><g id="k28-9"><use href="#Al" x="500"/></g><g id="k28-10"><use href="#Dl" x="552"/></g><g id="k28-11"><use href="#Dl" x="604"/></g><g id="k28-12"><use href="#Cl" x="656"/></g><g id="k28-13"><use href="#Cl" x="708"/></g><g id="k28-14"><use href="#Cl" x="760"/></g><g id="k28-15"><use href="#Dl" x="812"/></g><g id="k28-16"><use href="#Cl" x="864"/></g><g id="k28-17"><use href="#Cl" x="916"/></g><g id="k28-18"><use href="#Cl" x="968"/></g><g id="k28-19"><use href="#Dl" x="1020"/></g><g id="k28-20"><use href="#Dl" x="1072"/></g><g id="k28-21"><use href="#Al" x="1124"/></g><g id="k28-22"><use href="#Al" x="1176"/></g><g id="k28-23"><use href="#Al" x="1228"/></g><g id="k28-24"><use href="#Al" x="1280"/></g></g>
<g id="row29" transform="translate(0 1518)"><g id="k29-1"><use href="#Ar" x="84"/></g><g id="k29-2"><use href="#Ar" x="136"/></g><g id="k29-3"><use href="#Ar" x="188"/></g><g id="k29-4"><use href="#Ar" x="240"/></g><g id="k29-5"><use href="#Ar" x="292"/></g><g id="k29-6"><use href="#Ar" x="344"/></g><g id="k29-7"><use href="#Ar" x="396"/></g><g id="k29-8"><use href="#Ar" x="448"/></g><g id="k29-9"><use href="#Ar" x="500"/></g><g id="k29-10"><use href="#Dr" x="552"/></g><g id="k29-11"><use href="#Cr" x="604"/></g><g id="k29-12"><use href="#Cr" x="656"/></g><g id="k29-13"><use href="#Cr" x="708"/></g><g id="k29-14"><use href="#Cr" x="760"/></g><g id="k29-15"><use href="#Dr" x="812"/></g><g id="k29-16"><use href="#Cr" x="864"/></g><g id="k29-17"><use href="#Cr" x="916"/></g><g id="k29-18"><use href="#Cr" x="968"/></g><g id="k29-19"><use href="#Dr" x="1020"/></g><g id="k29-20"><use href="#Dr" x="1072"/></g><g id="k29-21"><use href="#Ar" x="1124"/></g><g id="k29-22"><use href="#Ar" x="1176"/></g><g id="k29-23"><use href="#Ar" x="1228"/></g><g id="k29-24"><use href="#Ar" x="1280"/></g></g>
<g id="row30" transform="translate(0 1570)"><g id="k30-1"><use href="#Al" x="84"/></g><g id="k30-2"><use href="#Al" x="136"/></g><g id="k30-3"><use href="#Al" x="188"/></g><g id="k30-4"><use href="#Al" x="240"/></g><g id="k30-5"><use href="#Al" x="292"/></g><g id="k30-6"><use href="#Al" x="344"/></g><g id="k30-7"><use href="#Al" x="396"/></g><g id="k30-8"><use href="#Al" x="448"/></g><g id="k30-9"><use href="#Al" x="500"/></g><g id="k30-10"><use href="#Dl" x="552"/></g><g id="k30-11"><use href="#Dl" x="604"/></g><g id="k30-12"><use href="#Cl" x="656"/></g><g id="k30-13"><use href="#Cl" x="708"/></g><g id="k30-14"><use href="#Cl" x="760"/></g><g id="k30-15"><use href="#Dl" x="812"/></g><g id="k30-16"><use href="#Cl" x="864"/></g><g id="k30-17"><use href="#Cl" x="916"/></g><g id="k30-18"><use href="#Cl" x="968"/></g><g id="k30-19"><use href="#Dl" x="1020"/></g><g id="k30-20"><use href="#Dl" x="1072"/></g><g id="k30-21"><use href="#Al" x="1124"/></g><g id="k30-22"><use href="#Al" x="1176"/></g><g id="k30-23"><use href="#Al" x="1228"/></g><g id="k30-24"><use href="#Al" x="1280"/></g></g>
<g id="row31" transform="translate(0 1622)"><g id="k31-1"><use href="#Ar" x="84"/></g><g id="k31-2"><use href="#Ar" x="136"/></g><g id="k31-3"><use href="#Ar" x="188"/></g><g id="k31-4"><use href="#Ar" x="240"/></g><g id="k31-5"><use href="#Ar" x="292"/></g><g id="k31-6"><use href="#Ar" x="344"/></g><g id="k31-7"><use href="#Ar" x="396"/></g><g id="k31-8"><use href="#Ar" x="448"/></g><g id="k31-9"><use href="#Ar" x="500"/></g><g id="k31-10"><use href="#Dr" x="552"/></g><g id="k31-11"><use href="#Dr" x="604"/></g><g id="k31-12"><use href="#Dr" x="656"/></g><g id="k31-13"><use href="#Cr" x="708"/></g><g id="k31-14"><use href="#Dr" x="760"/></g><g id="k31-15"><use href="#Dr" x="812"/></g><g id="k31-16"><use href="#Dr" x="864"/></g><g id="k31-17"><use href="#Dr" x="916"/></g><g id="k31-18"><use href="#Dr" x="968"/></g><g id="k31-19"><use href="#Dr" x="1020"/></g><g id="k31-20"><use href="#Dr" x="1072"/></g><g id="k31-21"><use href="#Ar" x="1124"/></g><g id="k31-22"><use href="#Ar" x="1176"/></g><g id="k31-23"><use href="#Ar" x="1228"/></g><g id="k31-24"><use href="#Ar" x="1280"/></g></g>
<g id="row32" transform="translate(0 1674)"><g id="k32-1"><use href="#Al" x="84"/></g><g id="k32-2"><use href="#Al" x="136"/></g><g id="k32-3"><use href="#Al" x="188"/></g><g id="k32-4"><use href="#Al" x="240"/></g><g id="k32-5"><use href="#Al" x="292"/></g><g id="k32-6"><use href="#Al" x="344"/></g><g id="k32-7"><use href="#Al" x="396"/></g><g id="k32-8"><use href="#Al" x="448"/></g><g id="k32-9"><use href="#Al" x="500"/></g><g id="k32-10"><use href="#Al" x="552"/></g><g id="k32-11"><use href="#Dl" x="604"/></g><g id="k32-12"><use href="#Dl" x="656"/></g><g id="k32-13"><use href="#Dl" x="708"/></g><g id="k32-14"><use href="#Dl" x="760"/></g><g id="k32-15"><use href="#Dl" x="812"/></g><g id="k32-16"><use href="#Dl" x="864"/></g><g id="k32-17"><use href="#Dl" x="916"/></g><g id="k32-18"><use href="#Dl" x="968"/></g><g id="k32-19"><use href="#Dl" x="1020"/></g><g id="k32-20"><use href="#Al" x="1072"/></g><g id="k32-21"><use href="#Al" x="1124"/></g><g id="k32-22"><use href="#Al" x="1176"/></g><g id="k32-23"><use href="#Al" x="1228"/></g><g id="k32-24"><use href="#Al" x="1280"/></g></g>
<g id="row33" transform="translate(0 1726)"><g id="k33-1"><use href="#Ar" x="84"/></g><g id="k33-2"><use href="#Ar" x="136"/></g><g id="k33-3"><use href="#Ar" x="188"/></g><g id="k33-4"><use href="#Ar" x="240"/></g><g id="k33-5"><use href="#Ar" x="292"/></g><g id="k33-6"><use href="#Ar" x="344"/></g><g id="k33-7"><use href="#Ar" x="396"/></g><g id="k33-8"><use href="#Ar" x="448"/></g><g id="k33-9"><use href="#Ar" x="500"/></g><g id="k33-10"><use href="#Ar" x="552"/></g><g id="k33-11"><use href="#Ar" x="604"/></g><g id="k33-12"><use href="#Ar" x="656"/></g><g id="k33-13"><use href="#Ar" x="708"/></g><g id="k33-14"><use href="#Ar" x="760"/></g><g id="k33-15"><use href="#Ar" x="812"/></g><g id="k33-16"><use href="#Ar" x="864"/></g><g id="k33-17"><use href="#Ar" x="916"/></g><g id="k33-18"><use href="#Ar" x="968"/></g><g id="k33-19"><use href="#Ar" x="1020"/></g><g id="k33-20"><use href="#Dr" x="1072"/></g><g id="k33-21"><use href="#Ar" x="1124"/></g><g id="k33-22"><use href="#Ar" x="1176"/></g><g id="k33-23"><use href="#Ar" x="1228"/></g><g id="k33-24"><use href="#Ar" x="1280"/></g></g>
<g id="row34" transform="translate(0 1778)"><g id="k34-1"><use href="#Al" x="84"/></g><g id="k34-2"><use href="#Al" x="136"/></g><g id="k34-3"><use href="#Al" x="188"/></g><g id="k34-4"><use href="#Al" x="240"/></g><g id="k34-5"><use href="#Al" x="292"/></g><g id="k34-6"><use href="#Al" x="344"/></g><g id="k34-7"><use href="#Al" x="396"/></g><g id="k34-8"><use href="#Al" x="448"/></g><g id="k34-9"><use href="#Al" x="500"/></g><g id="k34-10"><use href="#Al" x="552"/></g><g id="k34-11"><use href="#Al" x="604"/></g><g id="k34-12"><use href="#Al" x="656"/></g><g id="k34-13"><use href="#Al" x="708"/></g><g id="k34-14"><use href="#Al" x="760"/></g><g id="k34-15"><use href="#Al" x="812"/></g><g id="k34-16"><use href="#Al" x="864"/></g><g id="k34-17"><use href="#Al" x="916"/></g><g id="k34-18"><use href="#Al" x="968"/></g><g id="k34-19"><use href="#Al" x="1020"/></g><g id="k34-20"><use href="#Al" x="1072"/></g><g id="k34-21"><use href="#Dl" x="1124"/></g><g id="k34-22"><use href="#Al" x="1176"/></g><g id="k34-23"><use href="#Al" x="1228"/></g><g id="k34-24"><use href="#Al" x="1280"/></g></g>
<g id="row35" transform="translate(0 1830)"><g id="k35-1"><use href="#Ar" x="84"/></g><g id="k35-2"><use href="#Ar" x="136"/></g><g id="k35-3"><use href="#Ar" x="188"/></g><g id="k35-4"><use href="#Ar" x="240"/></g><g id="k35-5"><use href="#Ar" x="292"/></g><g id="k35-6"><use href="#Ar" x="344"/></g><g id="k35-7"><use href="#Ar" x="396"/></g><g id="k35-8"><use href="#Ar" x="448"/></g><g id="k35-9"><use href="#Ar" x="500"/></g><g id="k35-10"><use href="#Ar" x="552"/></g><g id="k35-11"><use href="#Ar" x="604"/></g><g id="k35-12"><use href="#Ar" x="656"/></g><g id="k35-13"><use href="#Ar" x="708"/></g><g id="k35-14"><use href="#Ar" x="760"/></g><g id="k35-15"><use href="#Ar" x="812"/></g><g id="k35-16"><use href="#Ar" x="864"/></g><g id="k35-17"><use href="#Ar" x="916"/></g><g id="k35-18"><use href="#Ar" x="968"/></g><g id="k35-19"><use href="#Ar" x="1020"/></g><g id="k35-20"><use href="#Ar" x="1072"/></g><g id="k35-21"><use href="#Ar" x="1124"/></g><g id="k35-22"><use href="#Ar" x="1176"/></g><g id="k35-23"><use href="#Ar" x="1228"/></g><g id="k35-24"><use href="#Ar" x="1280"/></g></g>
<g id="row36" transform="translate(0 1882)"><g id="k36-1"><use href="#Al" x="84"/></g><g id="k36-2"><use href="#Al" x="136"/></g><g id="k36-3"><use href="#Al" x="188"/></g><g id="k36-4"><use href="#Al" x="240"/></g><g id="k36-5"><use href="#Al" x="292"/></g><g id="k36-6"><use href="#Al" x="344"/></g><g id="k36-7"><use href="#Al" x="396"/></g><g id="k36-8"><use href="#Al" x="448"/></g><g id="k36-9"><use href="#Al" x="500"/></g><g id="k36-10"><use href="#Al" x="552"/></g><g id="k36-11"><use href="#Al" x="604"/></g><g id="k36-12"><use href="#Al" x="656"/></g><g id="k36-13"><use href="#Al" x="708"/></g><g id="k36-14"><use href="#Al" x="760"/></g><g id="k36-15"><use href="#Al" x="812"/></g><g id="k36-16"><use href="#Al" x="864"/></g><g id="k36-17"><use href="#Al" x="916"/></g><g id="k36-18"><use href="#Al" x="968"/></g><g id="k36-19"><use href="#Al" x="1020"/></g><g id="k36-20"><use href="#Al" x="1072"/></g><g id="k36-21"><use href="#Dl" x="1124"/></g><g id="k36-22"><use href="#Dl" x="1176"/></g><g id="k36-23"><use href="#Al" x="1228"/></g><g id="k36-24"><use href="#Al" x="1280"/></g></g>
<g id="row37" transform="translate(0 1934)"><g id="k37-1"><use href="#Ar" x="84"/></g><g id="k37-2"><use href="#Ar" x="136"/></g><g id="k37-3"><use href="#Ar" x="188"/></g><g id="k37-4"><use href="#Ar" x="240"/></g><g id="k37-5"><use href="#Ar" x="292"/></g><g id="k37-6"><use href="#Ar" x="344"/></g><g id="k37-7"><use href="#Ar" x="396"/></g><g id="k37-8"><use href="#Ar" x="448"/></g><g id="k37-9"><use href="#Ar" x="500"/></g><g id="k37-10"><use href="#Ar" x="552"/></g><g id="k37-11"><use href="#Ar" x="604"/></g><g id="k37-12"><use href="#Ar" x="656"/></g><g id="k37-13"><use href="#Ar" x="708"/></g><g id="k37-14"><use href="#Ar" x="760"/></g><g id="k37-15"><use href="#Ar" x="812"/></g><g id="k37-16"><use href="#Ar" x="864"/></g><g id="k37-17"><use href="#Ar" x="916"/></g><g id="k37-18"><use href="#Ar" x="968"/></g><g id="k37-19"><use href="#Ar" x="1020"/></g><g id="k37-20"><use href="#Dr" x="1072"/></g><g id="k37-21"><use href="#Cr" x="1124"/></g><g id="k37-22"><use href="#Cr" x="1176"/></g><g id="k37-23"><use href="#Dr" x="1228"/></g><g id="k37-24"><use href="#Ar" x="1280"/></g></g>
<g id="row38" transform="translate(0 1986)"><g id="k38-1"><use href="#Al" x="84"/></g><g id="k38-2"><use href="#Al" x="136"/></g><g id="k38-3"><use href="#Al" x="188"/></g><g id="k38-4"><use href="#Al" x="240"/></g><g id="k38-5"><use href="#Al" x="292"/></g><g id="k38-6"><use href="#Al" x="344"/></g><g id="k38-7"><use href="#Al" x="396"/></g><g id="k38-8"><use href="#Al" x="448"/></g><g id="k38-9"><use href="#Al" x="500"/></g><g id="k38-10"><use href="#Al" x="552"/></g><g id="k38-11"><use href="#Al" x="604"/></g><g id="k38-12"><use href="#Al" x="656"/></g><g id="k38-13"><use href="#Al" x="708"/></g><g id="k38-14"><use href="#Al" x="760"/></g><g id="k38-15"><use href="#Al" x="812"/></g><g id="k38-16"><use href="#Al" x="864"/></g><g id="k38-17"><use href="#Al" x="916"/></g><g id="k38-18"><use href="#Al" x="968"/></g><g id="k38-19"><use href="#Dl" x="1020"/></g><g id="k38-20"><use href="#Cl" x="1072"/></g><g id="k38-21"><use href="#Bl" x="1124"/></g><g id="k38-22"><use href="#Bl" x="1176"/></g><g id="k38-23"><use href="#Cl" x="1228"/></g><g id="k38-24"><use href="#Dl" x="1280"/></g></g>
<g id="row39" transform="translate(0 2038)"><g id="k39-1"><use href="#Ar" x="84"/></g><g id="k39-2"><use href="#Ar" x="136"/></g><g id="k39-3"><use href="#Ar" x="188"/></g><g id="k39-4"><use href="#Ar" x="240"/></g><g id="k39-5"><use href="#Ar" x="292"/></g><g id="k39-6"><use href="#Ar" x="344"/></g><g id="k39-7"><use href="#Ar" x="396"/></g><g id="k39-8"><use href="#Ar" x="448"/></g><g id="k39-9"><use href="#Ar" x="500"/></g><g id="k39-10"><use href="#Ar" x="552"/></g><g id="k39-11"><use href="#Ar" x="604"/></g><g id="k39-12"><use href="#Ar" x="656"/></g><g id="k39-13"><use href="#Ar" x="708"/></g><g id="k39-14"><use href="#Ar" x="760"/></g><g id="k39-15"><use href="#Ar" x="812"/></g><g id="k39-16"><use href="#Ar" x="864"/></g><g id="k39-17"><use href="#Ar" x="916"/></g><g id="k39-18"><use href="#Ar" x="968"/></g><g id="k39-19"><use href="#Dr" x="1020"/></g><g id="k39-20"><use href="#Cr" x="1072"/></g><g id="k39-21"><use href="#Br" x="1124"/></g><g id="k39-22"><use href="#Cr" x="1176"/></g><g id="k39-23"><use href="#Br" x="1228"/></g><g id="k39-24"><use href="#Cr" x="1280"/></g></g>
<g id="row40" transform="translate(0 2090)"><g id="k40-1"><use href="#Al" x="84"/></g><g id="k40-2"><use href="#Al" x="136"/></g><g id="k40-3"><use href="#Al" x="188"/></g><g id="k40-4"><use href="#Al" x="240"/></g><g id="k40-5"><use href="#Al" x="292"/></g><g id="k40-6"><use href="#Al" x="344"/></g><g id="k40-7"><use href="#Al" x="396"/></g><g id="k40-8"><use href="#Al" x="448"/></g><g id="k40-9"><use href="#Al" x="500"/></g><g id="k40-10"><use href="#Al" x="552"/></g><g id="k40-11"><use href="#Al" x="604"/></g><g id="k40-12"><use href="#Al" x="656"/></g><g id="k40-13"><use href="#Al" x="708"/></g><g id="k40-14"><use href="#Al" x="760"/></g><g id="k40-15"><use href="#Al" x="812"/></g><g id="k40-16"><use href="#Al" x="864"/></g><g id="k40-17"><use href="#Al" x="916"/></g><g id="k40-18"><use href="#Al" x="968"/></g><g id="k40-19"><use href="#Al" x="1020"/></g><g id="k40-20"><use href="#Dl" x="1072"/></g><g id="k40-21"><use href="#Cl" x="1124"/></g><g id="k40-22"><use href="#Bl" x="1176"/></g><g id="k40-23"><use href="#Cl" x="1228"/></g><g id="k40-24"><use href="#Bl" x="1280"/></g></g>
<g id="row41" transform="translate(0 2142)"><g id="k41-1"><use href="#Ar" x="84"/></g><g id="k41-2"><use href="#Ar" x="136"/></g><g id="k41-3"><use href="#Ar" x="188"/></g><g id="k41-4"><use href="#Ar" x="240"/></g><g id="k41-5"><use href="#Ar" x="292"/></g><g id="k41-6"><use href="#Ar" x="344"/></g><g id="k41-7"><use href="#Ar" x="396"/></g><g id="k41-8"><use href="#Ar" x="448"/></g><g id="k41-9"><use href="#Ar" x="500"/></g><g id="k41-10"><use href="#Ar" x="552"/></g><g id="k41-11"><use href="#Ar" x="604"/></g><g id="k41-12"><use href="#Ar" x="656"/></g><g id="k41-13"><use href="#Ar" x="708"/></g><g id="k41-14"><use href="#Ar" x="760"/></g><g id="k41-15"><use href="#Ar" x="812"/></g><g id="k41-16"><use href="#Ar" x="864"/></g><g id="k41-17"><use href="#Ar" x="916"/></g><g id="k41-18"><use href="#Ar" x="968"/></g><g id="k41-19"><use href="#Ar" x="1020"/></g><g id="k41-20"><use href="#Ar" x="1072"/></g><g id="k41-21"><use href="#Dr" x="1124"/></g><g id="k41-22"><use href="#Cr" x="1176"/></g><g id="k41-23"><use href="#Br" x="1228"/></g><g id="k41-24"><use href="#Cr" x="1280"/></g></g>
<g id="row42" transform="translate(0 2194)"><g id="k42-1"><use href="#Al" x="84"/></g><g id="k42-2"><use href="#Al" x="136"/></g><g id="k42-3"><use href="#Al" x="188"/></g><g id="k42-4"><use href="#Al" x="240"/></g><g id="k42-5"><use href="#Al" x="292"/></g><g id="k42-6"><use href="#Al" x="344"/></g><g id="k42-7"><use href="#Al" x="396"/></g><g id="k42-8"><use href="#Al" x="448"/></g><g id="k42-9"><use href="#Al" x="500"/></g><g id="k42-10"><use href="#Al" x="552"/></g><g id="k42-11"><use href="#Al" x="604"/></g><g id="k42-12"><use href="#Al" x="656"/></g><g id="k42-13"><use href="#Al" x="708"/></g><g id="k42-14"><use href="#Al" x="760"/></g><g id="k42-15"><use href="#Al" x="812"/></g><g id="k42-16"><use href="#Al" x="864"/></g><g id="k42-17"><use href="#Al" x="916"/></g><g id="k42-18"><use href="#Al" x="968"/></g><g id="k42-19"><use href="#Al" x="1020"/></g><g id="k42-20"><use href="#Al" x="1072"/></g><g id="k42-21"><use href="#Al" x="1124"/></g><g id="k42-22"><use href="#Dl" x="1176"/></g><g id="k42-23"><use href="#Cl" x="1228"/></g><g id="k42-24"><use href="#Bl" x="1280"/></g></g>
</g>
<g id="thread-labels" class="lab">
<text x="31" y="66" fill="#fff">A</text>
<text x="31" y="482" fill="#fff">D</text>
<text x="31" y="1106" fill="#fff">B</text>
<text x="31" y="2198" fill="#fff">A</text>
<text x="1326" y="638" fill="#333">C</text>
</g>
<g id="row-numbers-left" class="rn" text-anchor="end">
<text x="21" y="67">1</text><text x="21" y="119">2</text><text x="21" y="171">3</text><text x="21" y="223">4</text><text x="21" y="275">5</text><text x="21" y="327">6</text><text x="21" y="379">7</text><text x="21" y="431">8</text><text x="21" y="483">9</text><text x="21" y="535">10</text><text x="21" y="587">11</text><text x="21" y="639">12</text><text x="21" y="691">13</text><text x="21" y="743">14</text><text x="21" y="795">15</text><text x="21" y="847">16</text><text x="21" y="899">17</text><text x="21" y="951">18</text><text x="21" y="1003">19</text><text x="21" y="1055">20</text><text x="21" y="1107">21</text><text x="21" y="1159">22</text><text x="21" y="1211">23</text><text x="21" y="1263">24</text><text x="21" y="1315">25</text><text x="21" y="1367">26</text><text x="21" y="1419">27</text><text x="21" y="1471">28</text><text x="21" y="1523">29</text><text x="21" y="1575">30</text><text x="21" y="1627">31</text><text x="21" y="1679">32</text><text x="21" y="1731">33</text><text x="21" y="1783">34</text><text x="21" y="1835">35</text><text x="21" y="1887">36</text><text x="21" y="1939">37</text><text x="21" y="1991">38</text><text x="21" y="2043">39</text><text x="21" y="2095">40</text><text x="21" y="2147">41</text><text x="21" y="2199">42</text>
</g>
<g id="row-numbers-right" class="rn">
<text x="1342" y="67">1</text><text x="1342" y="119">2</text><text x="1342" y="171">3</text><text x="1342" y="223">4</text><text x="1342" y="275">5</text><text x="1342" y="327">6</text><text x="1342" y="379">7</text><text x="1342" y="431">8</text><text x="1342" y="483">9</text><text x="1342" y="535">10</text><text x="1342" y="587">11</text><text x="1342" y="639">12</text><text x="1342" y="691">13</text><text x="1342" y="743">14</text><text x="1342" y="795">15</text><text x="1342" y="847">16</text><text x="1342" y="899">17</text><text x="1342" y="951">18</text><text x="1342" y="1003">19</text><text x="1342" y="1055">20</text><text x="1342" y="1107">21</text><text x="1342" y="1159">22</text><text x="1342" y="1211">23</text><text x="1342" y="1263">24</text><text x="1342" y="1315">25</text><text x="1342" y="1367">26</text><text x="1342" y="1419">27</text><text x="1342" y="1471">28</text><text x="1342" y="1523">29</text><text x="1342" y="1575">30</text><text x="1342" y="1627">31</text><text x="1342" y="1679">32</text><text x="1342" y="1731">33</text><text x="1342" y="1783">34</text><text x="1342" y="1835">35</text><text x="1342" y="1887">36</text><text x="1342" y="1939">37</text><text x="1342" y="1991">38</text><text x="1342" y="2043">39</text><text x="1342" y="2095">40</text><text x="1342" y="2147">41</text><text x="1342" y="2199">42</text>
</g>
<text id="watermark" class="wm" x="682.5" y="1132.5" text-anchor="middle">BRACELETBOOK.COM</text>
</svg>
